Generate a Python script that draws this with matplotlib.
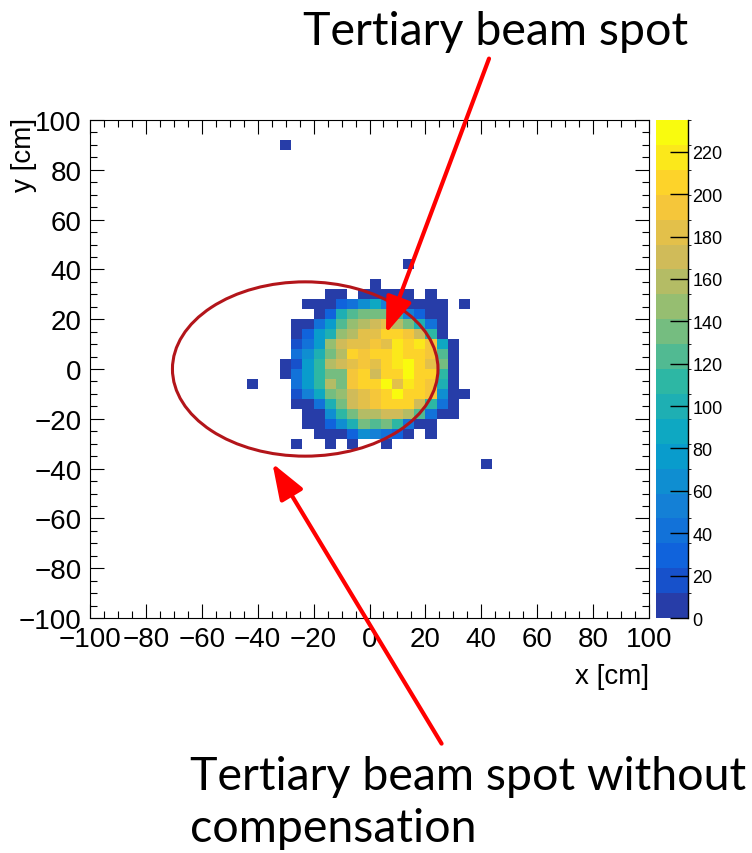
import numpy as np
import matplotlib
matplotlib.use("Agg")
import matplotlib.pyplot as plt
from matplotlib.colors import LinearSegmentedColormap, ListedColormap, BoundaryNorm
from matplotlib.patches import Ellipse, FancyArrowPatch
from matplotlib.ticker import MultipleLocator

# Bin contents of the beam spot, 4 cm bins
# columns: x from -36 to 36, rows: y from 36 (top) down to -36
x_first = -36
y_top = 36
spot = [
    [0, 0, 0, 0, 0, 0, 0, 0, 0, 8, 0, 0, 0, 0, 0, 0, 0, 0],
    [0, 0, 0, 0, 0, 6, 5, 0, 7, 8, 6, 5, 4, 0, 5, 0, 0, 0],
    [0, 0, 0, 6, 8, 10, 35, 45, 70, 90, 50, 30, 8, 8, 6, 5, 0, 4],
    [0, 0, 0, 0, 8, 35, 105, 125, 135, 140, 135, 110, 50, 30, 8, 8, 0, 0],
    [0, 0, 8, 8, 40, 80, 125, 145, 160, 170, 180, 160, 140, 100, 40, 8, 0, 0],
    [0, 0, 8, 35, 75, 105, 145, 160, 180, 185, 205, 200, 195, 170, 115, 8, 0, 0],
    [0, 0, 20, 45, 80, 150, 165, 180, 185, 195, 180, 220, 200, 215, 190, 90, 8, 0],
    [0, 0, 40, 60, 105, 135, 160, 200, 190, 200, 205, 215, 205, 200, 195, 120, 8, 0],
    [0, 8, 20, 75, 110, 160, 165, 185, 195, 180, 200, 220, 225, 200, 185, 140, 8, 0],
    [0, 8, 40, 80, 115, 140, 130, 190, 200, 175, 200, 205, 225, 210, 200, 110, 8, 0],
    [0, 0, 45, 80, 110, 160, 140, 195, 200, 200, 225, 180, 215, 205, 195, 105, 8, 0],
    [0, 0, 20, 50, 85, 130, 145, 175, 185, 195, 205, 235, 200, 200, 190, 70, 8, 8],
    [0, 0, 8, 8, 45, 100, 140, 165, 185, 195, 200, 210, 200, 165, 110, 40, 8, 0],
    [0, 0, 0, 8, 8, 70, 110, 135, 160, 160, 165, 175, 160, 120, 40, 8, 8, 0],
    [0, 0, 0, 8, 8, 35, 60, 105, 135, 120, 130, 110, 40, 8, 8, 0, 0, 0],
    [0, 0, 0, 0, 8, 8, 8, 35, 65, 55, 40, 30, 8, 0, 8, 0, 0, 0],
    [0, 0, 6, 0, 0, 6, 0, 6, 0, 0, 6, 0, 0, 0, 0, 0, 0, 0],
    [0, 0, 0, 0, 0, 0, 0, 0, 0, 0, 0, 0, 0, 0, 0, 0, 0, 0],
]

# stray single hits (lower bin edges x, y and content)
stray_x = [-32, 12, -44, 40]
stray_y = [88, 40, -8, -40]
stray_n = [6, 6, 6, 6]

z_max = 235
n_levels = 20

# fill the full 50x50 histogram
edges = np.arange(-100, 101, 4)
H = np.zeros((50, 50))
for j, row in enumerate(spot):
    yi = (y_top - 4 * (j + 1) + 100) // 4
    for i, val in enumerate(row):
        xi = (x_first + 4 * i + 100) // 4
        H[yi, xi] = val
for sx, sy, sn in zip(stray_x, stray_y, stray_n):
    H[(sy + 100) // 4, (sx + 100) // 4] = sn
H = np.ma.masked_where(H <= 0, H)

# ROOT kBird palette, sampled like COLZ contours
red = [0.2082, 0.0592, 0.0780, 0.0232, 0.1802, 0.5301, 0.8186, 0.9956, 0.9764]
green = [0.1664, 0.3599, 0.5041, 0.6419, 0.7178, 0.7492, 0.7328, 0.7862, 0.9832]
blue = [0.5293, 0.8684, 0.8385, 0.7914, 0.6425, 0.4662, 0.3499, 0.1968, 0.0539]
stops = np.linspace(0, 1, 9)
bird = LinearSegmentedColormap.from_list("bird", list(zip(stops, zip(red, green, blue))))
band_pos = [min((k + 0.99) / n_levels, 1.0) for k in range(n_levels)]
cmap = ListedColormap([bird(p) for p in band_pos])
norm = BoundaryNorm(np.linspace(0, z_max, n_levels + 1), n_levels)

W, Hpx = 752, 854
fig = plt.figure(figsize=(W / 100, Hpx / 100), dpi=100)
ax = fig.add_axes([90 / W, 1 - 619 / Hpx, 559 / W, 498 / Hpx])
cax = fig.add_axes([656 / W, 1 - 619 / Hpx, 32 / W, 498 / Hpx])

mesh = ax.pcolormesh(edges, edges, H, cmap=cmap, norm=norm)
ax.set_xlim(-100, 100)
ax.set_ylim(-100, 100)
ax.xaxis.set_major_locator(MultipleLocator(20))
ax.yaxis.set_major_locator(MultipleLocator(20))
ax.xaxis.set_minor_locator(MultipleLocator(5))
ax.yaxis.set_minor_locator(MultipleLocator(5))
ax.tick_params(which="both", direction="in", top=True, right=True, width=0.8)
ax.tick_params(which="major", length=10, labelsize=20, pad=6)
ax.tick_params(which="minor", length=5)
for lab in ax.get_xticklabels() + ax.get_yticklabels():
    lab.set_fontfamily("Liberation Sans")
for sp in ax.spines.values():
    sp.set_linewidth(0.8)

fig.text(649 / W, 1 - 664 / Hpx, "x [cm]", ha="right", va="top",
         fontsize=20, family="Liberation Sans")
fig.text(24 / W, 1 - 118 / Hpx, "y [cm]", ha="center", va="top", rotation=90,
         fontsize=20, family="Liberation Sans")

cbar = fig.colorbar(mesh, cax=cax, ticks=np.arange(0, 221, 20))
cbar.outline.set_visible(False)
cax.tick_params(direction="in", length=13, width=1, labelsize=13, pad=3)
for lab in cax.get_yticklabels():
    lab.set_fontfamily("Liberation Sans")
cax.plot([1, 1], [0, 1], transform=cax.transAxes, color="black", lw=1, clip_on=False)

# circle around the uncompensated spot
ax.add_patch(Ellipse((-23, 0), 95, 70, fill=False, edgecolor="#b3151a", lw=2.2, clip_on=False))

# annotations
def fpt(px, py):
    return (px / W, 1 - py / Hpx)

for tail, tip in [((490, 57), (385, 337)), ((443, 747), (271, 462))]:
    arr = FancyArrowPatch(fpt(*tail), fpt(*tip), transform=fig.transFigure,
                          arrowstyle="-|>,head_length=0.55,head_width=0.2",
                          mutation_scale=40, color="#ff0000", lw=3)
    fig.add_artist(arr)

fig.text(303 / W, 1 - 45 / Hpx, "Tertiary beam spot", ha="left", va="baseline",
         fontsize=33.5, family="Lato")
fig.text(190 / W, 1 - 790 / Hpx, "Tertiary beam spot without", ha="left", va="baseline",
         fontsize=33.5, family="Lato")
fig.text(190 / W, 1 - 842 / Hpx, "compensation", ha="left", va="baseline",
         fontsize=33.5, family="Lato")

fig.savefig("out.png", dpi=100)
